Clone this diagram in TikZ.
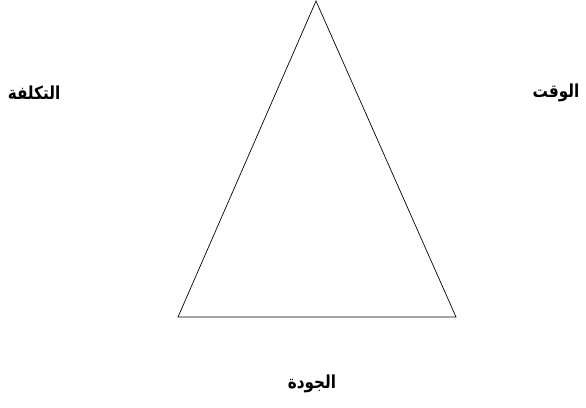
\documentclass[tikz,border=0pt]{standalone}
\usepackage{fontspec}
\usepackage{tikz}
\usetikzlibrary{positioning}
\TeXXeTstate=1
\newfontfamily\arabicfont[Script=Arabic]{DejaVu Sans}
\definecolor{trink}{HTML}{000000}
\tikzset{
  edge/.style={draw=trink,line width=0.7pt,line join=miter},
  lbl/.style={font=\arabicfont\bfseries\fontsize{18}{21}\selectfont,text=trink,inner sep=0pt,xscale=0.85},
}
\begin{document}
\begin{tikzpicture}[x=1bp,y=-1bp]
  \useasboundingbox (0,0) rectangle (586,407);
  \coordinate (apex) at (316,1);
  \coordinate (bl) at (178,317);
  \coordinate (br) at (456,317);
  \node[lbl] (cost) at (34,93) {\beginR التكلفة\endR};
  \node[lbl] (time) at (556,93) {\beginR الوقت\endR};
  \node[lbl] (quality) at (312,384) {\beginR الجودة\endR};
  \draw[edge](apex)--(br)--(bl)--cycle;
\end{tikzpicture}
\end{document}
